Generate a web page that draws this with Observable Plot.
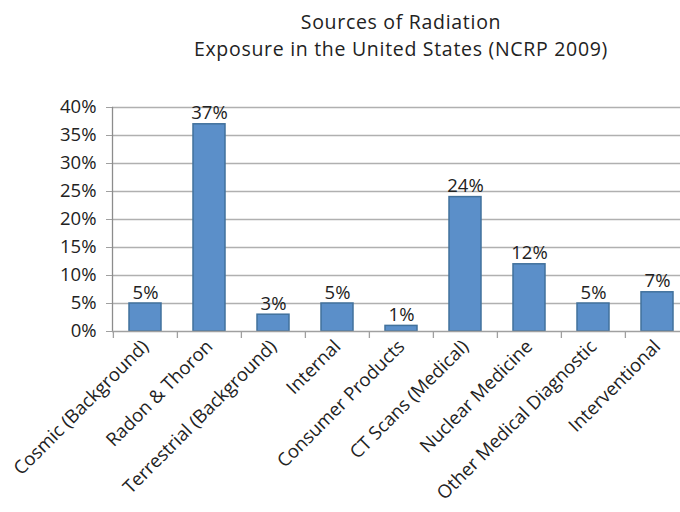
<!DOCTYPE html>
<html><head><meta charset="utf-8">
<script src="https://cdn.jsdelivr.net/npm/d3@7"></script>
<script src="https://cdn.jsdelivr.net/npm/@observablehq/plot@0.6"></script>
<style>
body{margin:0;background:#fff;font-family:"Open Sans",sans-serif;}
#title{width:680px;height:80px;box-sizing:border-box;padding-left:122px;padding-top:8px;text-align:center;font-size:19.5px;line-height:27px;letter-spacing:0.7px;color:#222;}
#chart svg{display:block;}
</style></head><body>
<div id="title">Sources of Radiation<br>Exposure in the United States (NCRP 2009)</div>
<div id="chart"></div>
<script>
const categories = ["Cosmic (Background)","Radon & Thoron","Terrestrial (Background)","Internal","Consumer Products","CT Scans (Medical)","Nuclear Medicine","Other Medical Diagnostic","Interventional"];
const values = [5,37,3,5,1,24,12,5,7];
const yTicks = [0,5,10,15,20,25,30,35,40];

const data = categories.map((c,i)=>({cat:c, value:values[i]}));
const font = '"Open Sans", sans-serif';
const step = (690-112)/9;

const chart = Plot.plot({
  width: 680, height: 432,
  marginTop: 27, marginBottom: 181, marginLeft: 112, marginRight: -10,
  style: {fontFamily: font, fontSize: "18.5px", color: "#222", background: "#fff"},
  x: {domain: categories, paddingInner: 0.5, paddingOuter: 0.25, label: null},
  y: {domain: [0,40], label: null},
  marks: [
    Plot.ruleY(yTicks.filter(d=>d>0), {stroke:"#b0b0b0", strokeWidth:1.3, strokeOpacity:1}),
    Plot.axisY({ticks: yTicks, tickFormat: d=>d+"%", tickSize: 6, tickPadding: 10, stroke:"#a0a0a0", strokeOpacity:1, fontSize: 18.5, fill:"#222", label:null}),
    Plot.frame({anchor:"left", stroke:"#8c8c8c", strokeWidth:1.3}),
    Plot.ruleX(categories, {x: d=>d, y1: 0, y2: 0, dx: -step/2, insetBottom: -7, stroke:"#a0a0a0", strokeWidth:1.3}),
    Plot.barY(data, {x:"cat", y:"value", fill:"#5b8fc9", stroke:"#41719c", strokeWidth:1.5}),
    Plot.ruleY([0], {stroke:"#a0a0a0", strokeWidth:1.3}),
    Plot.text(data, {x:"cat", y:"value", text: d=>d.value+"%", dy:-5, lineAnchor:"bottom", fontSize:18.5, fill:"#222"}),
    Plot.axisX({tickSize: 0, tickRotate: -45, tickPadding: 12, fontSize: 18.5, fill:"#222", label:null})
  ]
});
document.getElementById("chart").appendChild(chart);
</script>
</body></html>
